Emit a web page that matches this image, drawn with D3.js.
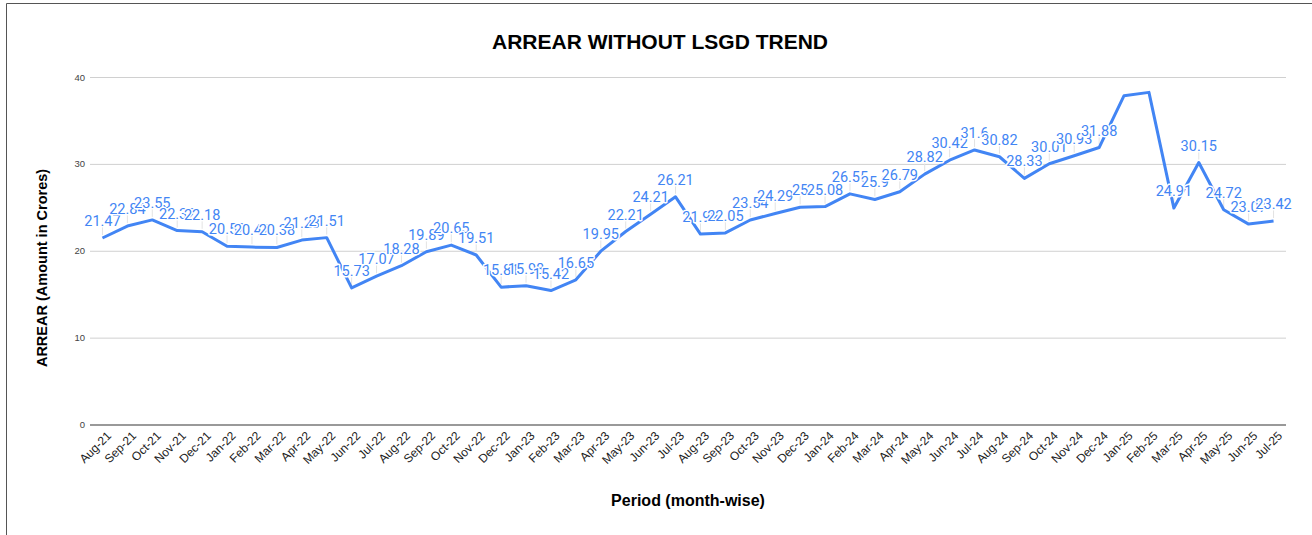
<!DOCTYPE html>
<html>
<head>
<meta charset="utf-8">
<script src="https://cdn.jsdelivr.net/npm/d3@7"></script>
<style>
  html, body { margin: 0; padding: 0; background: #fff; }
  svg { display: block; }
</style>
</head>
<body>
<svg id="chart" width="1312" height="535"></svg>
<script>
const months = ["Aug-21","Sep-21","Oct-21","Nov-21","Dec-21","Jan-22","Feb-22","Mar-22","Apr-22","May-22","Jun-22","Jul-22",
  "Aug-22","Sep-22","Oct-22","Nov-22","Dec-22","Jan-23","Feb-23","Mar-23","Apr-23","May-23","Jun-23","Jul-23",
  "Aug-23","Sep-23","Oct-23","Nov-23","Dec-23","Jan-24","Feb-24","Mar-24","Apr-24","May-24","Jun-24","Jul-24",
  "Aug-24","Sep-24","Oct-24","Nov-24","Dec-24","Jan-25","Feb-25","Mar-25","Apr-25","May-25","Jun-25","Jul-25"];
const arrear = [21.47,22.84,23.55,22.32,22.18,20.52,20.42,20.38,21.23,21.51,15.73,17.07,
  18.28,19.89,20.65,19.51,15.81,15.98,15.42,16.65,19.95,22.21,24.21,26.21,
  21.92,22.05,23.54,24.29,25,25.08,26.55,25.9,26.79,28.82,30.42,31.6,
  30.82,28.33,30.01,30.93,31.88,37.85,38.23,24.91,30.15,24.72,23.07,23.42];
const hiddenLabels = ["Jan-25","Feb-25"];
const yTicks = [0,10,20,30,40];
const title = "ARREAR WITHOUT LSGD TREND";
const xTitle = "Period (month-wise)";
const yTitle = "ARREAR (Amount in Crores)";

const svg = d3.select("#chart");
const plotLeft = 90, plotRight = 1286, plotTop = 77, plotBottom = 424.5;

const x = d3.scalePoint().domain(months).range([plotLeft, plotRight]).padding(0.5);
const y = d3.scaleLinear().domain([0, 40]).range([plotBottom, plotTop]);

// frame
svg.append("path").attr("d", "M6.5,535V3.5H1312").attr("fill", "none").attr("stroke", "#555").attr("stroke-width", 1);

// title
svg.append("text").attr("x", 660).attr("y", 49).attr("text-anchor", "middle")
  .attr("font-family", "Liberation Sans, Arial, sans-serif").attr("font-weight", "bold").attr("font-size", 21)
  .attr("fill", "#000").text(title);

// gridlines
const yAxis = d3.axisLeft(y).tickValues(yTicks).tickSize(-(plotRight - plotLeft)).tickPadding(5);
const gy = svg.append("g").attr("transform", `translate(${plotLeft},0)`).call(yAxis);
gy.select(".domain").remove();
gy.selectAll(".tick line").attr("stroke", d => d === 0 ? "#999" : "#d0d0d0").attr("stroke-width", d => d === 0 ? 2 : 1);
gy.selectAll(".tick text").attr("font-family", "Liberation Sans, Arial, sans-serif").attr("font-size", 9.5).attr("fill", "#444");

// x axis labels
const xAxis = d3.axisBottom(x).tickSize(0).tickPadding(0);
const gx = svg.append("g").attr("transform", `translate(0,${plotBottom})`).call(xAxis);
gx.select(".domain").remove();
gx.selectAll(".tick text")
  .attr("font-family", "Liberation Sans, Arial, sans-serif").attr("font-size", 12).attr("fill", "#222")
  .attr("text-anchor", "end").attr("dy", null).attr("y", 0)
  .attr("transform", "translate(9,12) rotate(-45)");

// axis titles
svg.append("text").attr("x", (plotLeft + plotRight) / 2).attr("y", 506).attr("text-anchor", "middle")
  .attr("font-family", "Liberation Sans, Arial, sans-serif").attr("font-weight", "bold").attr("font-size", 16)
  .attr("fill", "#000").text(xTitle);
svg.append("text").attr("transform", `translate(47,268) rotate(-90)`).attr("text-anchor", "middle")
  .attr("font-family", "Liberation Sans, Arial, sans-serif").attr("font-weight", "bold").attr("font-size", 14.5)
  .attr("fill", "#000").text(yTitle);

const pts = months.map((m, i) => ({ m, v: arrear[i] }));

// leader lines
svg.append("g").selectAll("line").data(pts.filter(d => !hiddenLabels.includes(d.m))).join("line")
  .attr("x1", d => x(d.m)).attr("x2", d => x(d.m))
  .attr("y1", d => y(d.v) - 12).attr("y2", d => y(d.v) - 3)
  .attr("stroke", "#e3e3e3").attr("stroke-width", 1);

// line
const line = d3.line().x(d => x(d.m)).y(d => y(d.v));
svg.append("path").datum(pts).attr("d", line).attr("fill", "none")
  .attr("stroke", "#4285f4").attr("stroke-width", 3).attr("stroke-linejoin", "round");

// data labels
svg.append("g").selectAll("text").data(pts.filter(d => !hiddenLabels.includes(d.m))).join("text")
  .attr("x", d => x(d.m)).attr("y", d => y(d.v) - 12).attr("text-anchor", "middle")
  .attr("font-family", "Roboto, sans-serif").attr("font-size", 14.5)
  .attr("fill", "#4285f4").attr("stroke", "#fff").attr("stroke-width", 3).attr("paint-order", "stroke")
  .attr("stroke-linejoin", "round")
  .text(d => String(d.v));
</script>
</body>
</html>
